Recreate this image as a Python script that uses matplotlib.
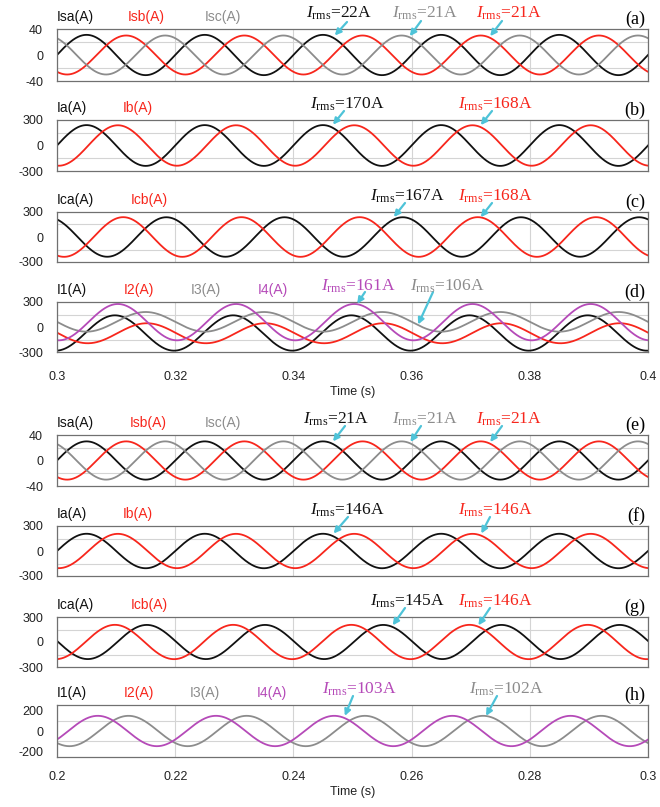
import numpy as np
import matplotlib.pyplot as plt

plt.rcParams['font.family'] = ['Liberation Sans', 'DejaVu Sans']
plt.rcParams['mathtext.fontset'] = 'custom'
plt.rcParams['mathtext.rm'] = 'Liberation Serif'
plt.rcParams['mathtext.it'] = 'Liberation Serif:italic'
plt.rcParams['axes.unicode_minus'] = False

W, H = 660, 807
FREQ = 50.0          # supply frequency (Hz)

BLK, RED, GRY, PUR = '#111111', '#f7261c', '#8c8c8c', '#b54ab8'
CYAN = '#4ec3d8'

# ---- data: amplitude (A), dc offset (A), time of a positive peak (s)
# upper case, 0.3 - 0.4 s
a_names = ['Isa(A)', 'Isb(A)', 'Isc(A)']
a_amp = [31, 30, 30]
a_dc = [0, 0, 0]
a_peak = [0.305, 0.3117, 0.2983]

b_names = ['Ia(A)', 'Ib(A)']
b_amp = [240, 238]
b_dc = [0, 0]
b_peak = [0.305, 0.3103]

c_names = ['Ica(A)', 'Icb(A)']
c_amp = [237, 238]
c_dc = [0, 0]
c_peak = [0.2985, 0.3112]

d_names = ['I1(A)', 'I2(A)', 'I3(A)', 'I4(A)']
d_amp = [212, 120, 118, 218]
d_dc = [-72, -75, 62, 58]
d_peak = [0.3098, 0.3152, 0.3150, 0.3103]

# lower case, 0.2 - 0.3 s
e_names = ['Isa(A)', 'Isb(A)', 'Isc(A)']
e_amp = [30, 30, 30]
e_dc = [0, 0, 0]
e_peak = [0.205, 0.2117, 0.2183]

f_names = ['Ia(A)', 'Ib(A)']
f_amp = [207, 206]
f_dc = [0, 0]
f_peak = [0.205, 0.2103]

g_names = ['Ica(A)', 'Icb(A)']
g_amp = [205, 206]
g_dc = [0, 0]
g_peak = [0.2152, 0.2098]

h_names = ['I1(A)', 'I2(A)', 'I3(A)', 'I4(A)']
h_amp = [0, 0, 146, 146]
h_dc = [0, 0, 0, 0]
h_peak = [0.0, 0.0, 0.2121, 0.2069]
h_show = [False, False, True, True]   # I1, I2 not drawn in (h)

# rms annotations: text, colour, arrow tip (time, current)
a_rms = [('22A', BLK, (0.3470, 30)), ('21A', GRY, (0.3597, 29)), ('21A', RED, (0.3733, 29))]
b_rms = [('170A', BLK, (0.3467, 245)), ('168A', RED, (0.3717, 240))]
c_rms = [('167A', BLK, (0.3570, 240)), ('168A', RED, (0.3717, 238))]
d_rms = [('161A', PUR, (0.3508, 280)), ('106A', GRY, (0.3611, 30))]
e_rms = [('21A', BLK, (0.2467, 30)), ('21A', GRY, (0.2598, 29)), ('21A', RED, (0.2733, 29))]
f_rms = [('146A', BLK, (0.2468, 210)), ('146A', RED, (0.2718, 210))]
g_rms = [('145A', BLK, (0.2568, 200)), ('146A', RED, (0.2713, 200))]
h_rms = [('103A', PUR, (0.2487, 145)), ('102A', GRY, (0.2726, 145))]

COLS3 = [BLK, RED, GRY]
COLS2 = [BLK, RED]
COLS4 = [BLK, RED, GRY, PUR]

# ---- layout (pixels) ----
# box: x0, top, x1, bottom ; label x positions ; rms text x (left) ; arrow tails
panels = [
    dict(tag='(a)', box=(57, 29, 648, 81), names=a_names, cols=COLS3, amp=a_amp, dc=a_dc, pk=a_peak,
         xr=(0.3, 0.4), yl=40, yt=[-40, 0, 40], grid=[-20, 20], lab_x=[57, 128, 205],
         rms=a_rms, rms_x=[306, 392, 476], tails=[(347, 22), (421, 21), (502, 21)]),
    dict(tag='(b)', box=(57, 120, 648, 171), names=b_names, cols=COLS2, amp=b_amp, dc=b_dc, pk=b_peak,
         xr=(0.3, 0.4), yl=300, yt=[-300, 0, 300], grid=[-150, 150], lab_x=[57, 123],
         rms=b_rms, rms_x=[310, 458], tails=[(344, 111), (492, 111)]),
    dict(tag='(c)', box=(57, 212, 648, 262), names=c_names, cols=COLS2, amp=c_amp, dc=c_dc, pk=c_peak,
         xr=(0.3, 0.4), yl=300, yt=[-300, 0, 300], grid=[-150, 150], lab_x=[57, 131],
         rms=c_rms, rms_x=[370, 458], tails=[(405, 203), (492, 203)]),
    dict(tag='(d)', box=(57, 302, 648, 352), names=d_names, cols=COLS4, amp=d_amp, dc=d_dc, pk=d_peak,
         xr=(0.3, 0.4), yl=300, yt=[-300, 0, 300], grid=[-150, 150], lab_x=[57, 124, 191, 258],
         rms=d_rms, rms_x=[321, 410], tails=[(365, 292), (433, 292)], xlab=True, xpad=14),
    dict(tag='(e)', box=(57, 435, 648, 486), names=e_names, cols=COLS3, amp=e_amp, dc=e_dc, pk=e_peak,
         xr=(0.2, 0.3), yl=40, yt=[-40, 0, 40], grid=[-20, 20], lab_x=[57, 130, 205],
         rms=e_rms, rms_x=[303, 392, 476], tails=[(345, 426), (421, 426), (502, 426)]),
    dict(tag='(f)', box=(57, 526, 648, 576), names=f_names, cols=COLS2, amp=f_amp, dc=f_dc, pk=f_peak,
         xr=(0.2, 0.3), yl=300, yt=[-300, 0, 300], grid=[-150, 150], lab_x=[57, 123],
         rms=f_rms, rms_x=[310, 458], tails=[(348, 517), (490, 517)]),
    dict(tag='(g)', box=(57, 617, 648, 667), names=g_names, cols=COLS2, amp=g_amp, dc=g_dc, pk=g_peak,
         xr=(0.2, 0.3), yl=300, yt=[-300, 0, 300], grid=[-150, 150], lab_x=[57, 131],
         rms=g_rms, rms_x=[370, 458], tails=[(405, 608), (490, 608)]),
    dict(tag='(h)', box=(57, 705, 648, 757), names=h_names, cols=COLS4, amp=h_amp, dc=h_dc, pk=h_peak,
         xr=(0.2, 0.3), yl=250, yt=[-200, 0, 200], grid=[-200, -100, 0, 100, 200], lab_x=[57, 124, 190, 257],
         rms=h_rms, rms_x=[322, 469], tails=[(353, 696), (497, 696)], xlab=True, xpad=10, show=h_show),
]

fig = plt.figure(figsize=(W / 100, H / 100), dpi=100)


def fx(x):
    return x / W


def fy(y):
    return 1 - y / H


for p in panels:
    x0, top, x1, bot = p['box']
    ax = fig.add_axes([fx(x0), fy(bot), fx(x1 - x0), (bot - top) / H])
    t = np.linspace(p['xr'][0], p['xr'][1], 1500)
    show = p.get('show', [True] * len(p['names']))
    for A, dc, tp, col, s in zip(p['amp'], p['dc'], p['pk'], p['cols'], show):
        if not s:
            continue
        ax.plot(t, dc + A * np.cos(2 * np.pi * FREQ * (t - tp)), color=col, lw=1.3)
    ax.set_xlim(*p['xr'])
    ax.set_ylim(-p['yl'], p['yl'])
    ax.set_yticks(p['yt'])
    ax.set_yticks(p['grid'], minor=True)
    ax.set_xticks(np.arange(p['xr'][0], p['xr'][1] + 1e-9, 0.02))
    ax.grid(True, axis='x', color='#d4d4d4', lw=0.8)
    ax.grid(True, axis='y', which='minor', color='#d4d4d4', lw=0.8)
    ax.tick_params(which='both', length=0, labelsize=9, colors='#222222')
    ax.tick_params(axis='y', pad=10)
    for sp in ax.spines.values():
        sp.set_color('#707070')
        sp.set_linewidth(0.9)
    if p.get('xlab'):
        ax.tick_params(axis='x', pad=p['xpad'])
        ax.set_xticklabels(['%g' % v for v in np.round(ax.get_xticks(), 2)])
        ax.set_xlabel('Time (s)', fontsize=9, labelpad=2, color='#222222')
    else:
        ax.set_xticklabels([])

    # channel labels above the box
    for name, col, lx in zip(p['names'], p['cols'], p['lab_x']):
        fig.text(fx(lx), fy(top - 8), name, color=col, fontsize=10, va='baseline', ha='left')
    # rms readings with arrows
    for (val, col, tip), rx, tail in zip(p['rms'], p['rms_x'], p['tails']):
        fig.text(fx(rx), fy(top - 11), r'$I_{\mathrm{rms}}$=' + val, color=col, fontsize=12.5,
                 family='Liberation Serif', va='baseline', ha='left')
        ax.annotate('', xy=tip, xycoords='data', xytext=(tail[0], H - tail[1]), textcoords='figure pixels',
                    arrowprops=dict(arrowstyle='-|>', color=CYAN, lw=1.6, mutation_scale=9,
                                    shrinkA=0, shrinkB=0))
    fig.text(fx(645), fy(top - 10), p['tag'], fontsize=13, family='Liberation Serif',
             va='center', ha='right')

fig.savefig('out.png', dpi=100, facecolor='white')
